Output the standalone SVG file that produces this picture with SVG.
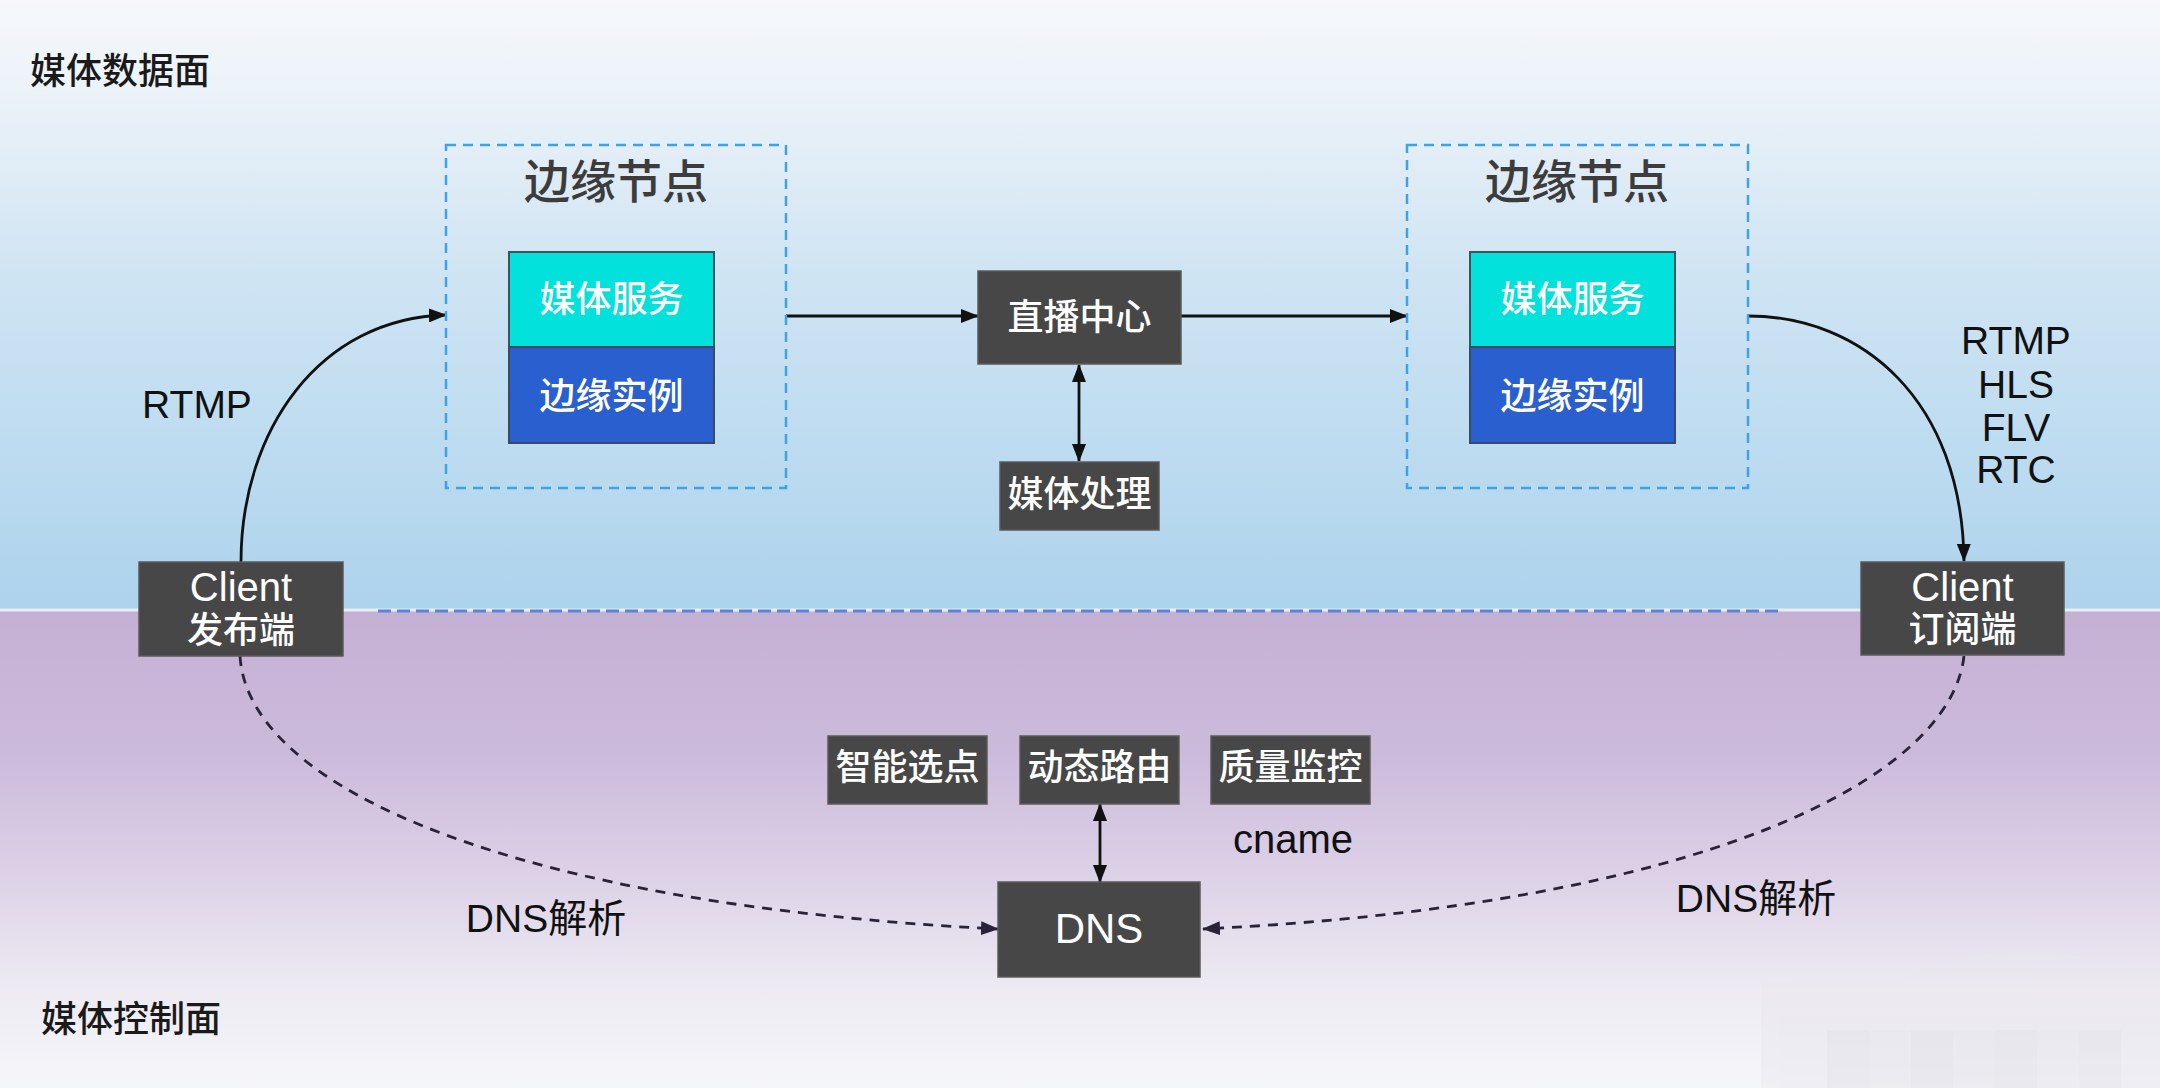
<svg xmlns="http://www.w3.org/2000/svg" width="2160" height="1088" viewBox="0 0 2160 1088">
  <defs>
    <linearGradient id="dataPlane" x1="0" y1="0" x2="0" y2="611" gradientUnits="userSpaceOnUse">
      <stop offset="0" stop-color="#f6f8fb"/>
      <stop offset="0.18" stop-color="#e9f1f8"/>
      <stop offset="0.45" stop-color="#cfe4f3"/>
      <stop offset="0.75" stop-color="#bcdbf0"/>
      <stop offset="1" stop-color="#add2ec"/>
    </linearGradient>
    <linearGradient id="ctrlPlane" x1="0" y1="611" x2="0" y2="1088" gradientUnits="userSpaceOnUse">
      <stop offset="0" stop-color="#c4b0d3"/>
      <stop offset="0.3" stop-color="#ccbadb"/>
      <stop offset="0.55" stop-color="#dcd1e7"/>
      <stop offset="0.8" stop-color="#eeebf3"/>
      <stop offset="1" stop-color="#f5f6fa"/>
    </linearGradient>
    <marker id="arrow" markerUnits="userSpaceOnUse" markerWidth="18" markerHeight="14" refX="17" refY="7" orient="auto-start-reverse">
      <path d="M0,0 L18,7 L0,14 z" fill="#111"/>
    </marker>
    <marker id="arrowDash" markerUnits="userSpaceOnUse" markerWidth="18" markerHeight="14" refX="17" refY="7" orient="auto-start-reverse">
      <path d="M0,0 L18,7 L0,14 z" fill="#2a2238"/>
    </marker>
    <style>
      text { font-family: "Liberation Sans", "Noto Sans CJK SC", sans-serif; }
      .plane { font-size: 36px; fill: #1a1a1a; font-weight: 500; }
      .zone { fill: none; stroke: #3ea2e4; stroke-width: 2.5; stroke-dasharray: 10 7; }
      .zoneTitle { font-size: 46px; fill: #3c3c3c; text-anchor: middle; font-weight: 500; }
      .svc { fill: #03e1dc; stroke: #3b5560; stroke-width: 2; }
      .inst { fill: #2a5fcf; stroke: #3b4a60; stroke-width: 2; }
      .box { fill: #474747; stroke: #5a5a5a; stroke-width: 1.5; }
      .wt { font-size: 36px; fill: #ffffff; text-anchor: middle; font-weight: 500; }
      .lbl { font-size: 39px; fill: #111111; text-anchor: middle; }
      .solid { fill: none; stroke: #111; stroke-width: 2.8; }
      .dash { fill: none; stroke: #2a2238; stroke-width: 2.8; stroke-dasharray: 10 8; }
    </style>
  </defs>

  <!-- planes -->
  <rect x="0" y="0" width="2160" height="611" fill="url(#dataPlane)"/>
  <rect x="0" y="611" width="2160" height="477" fill="url(#ctrlPlane)"/>
  <line x1="0" y1="610" x2="2160" y2="610" stroke="#e6edf3" stroke-width="3"/>
  <line x1="378" y1="611" x2="1781" y2="611" stroke="#5b84d8" stroke-width="3" stroke-dasharray="13 6"/>

  <!-- faint haze, lower right -->
  <g opacity="0.45">
    <path d="M1900,980 Q1960,948 2050,952 L2120,962 L2160,970 L2160,1088 L1761,1088 L1761,982 z" fill="#e9e6ee"/>
    <rect x="1827" y="1030" width="42" height="58" fill="#dedce4"/>
    <rect x="1869" y="1030" width="42" height="58" fill="#e3e1e8"/>
    <rect x="1911" y="1030" width="42" height="58" fill="#dcdae2"/>
    <rect x="1953" y="1030" width="42" height="58" fill="#e2e0e7"/>
    <rect x="1995" y="1030" width="42" height="58" fill="#dddbe3"/>
    <rect x="2037" y="1030" width="42" height="58" fill="#e4e2e9"/>
    <rect x="2079" y="1030" width="42" height="58" fill="#dfdde5"/>
  </g>

  <text class="plane" x="30" y="84">媒体数据面</text>
  <text class="plane" x="41" y="1032">媒体控制面</text>

  <!-- connectors -->
  <g id="connectors">
    <path class="solid" d="M241,562 C241,430 320,318 446,315" marker-end="url(#arrow)"/>
    <line class="solid" x1="786" y1="316" x2="978" y2="316" marker-end="url(#arrow)"/>
    <line class="solid" x1="1181" y1="316" x2="1407" y2="316" marker-end="url(#arrow)"/>
    <line class="solid" x1="1079" y1="365" x2="1079" y2="461" marker-start="url(#arrow)" marker-end="url(#arrow)"/>
    <path class="solid" d="M1748,316 C1862,316 1962,400 1964,561" marker-end="url(#arrow)"/>
    <line class="solid" x1="1100" y1="804" x2="1100" y2="882" marker-start="url(#arrow)" marker-end="url(#arrow)"/>
    <path class="dash" d="M240,656 C248,790 520,905 998,929" marker-end="url(#arrowDash)"/>
    <path class="dash" d="M1964,656 C1950,780 1700,905 1203,929" marker-end="url(#arrowDash)"/>
    <text class="lbl" x="197" y="418">RTMP</text>
    <text class="lbl" x="2016" y="354">RTMP</text>
    <text class="lbl" x="2016" y="398">HLS</text>
    <text class="lbl" x="2016" y="441">FLV</text>
    <text class="lbl" x="2016" y="483">RTC</text>
    <text class="lbl" x="546" y="932">DNS解析</text>
    <text class="lbl" x="1756" y="912">DNS解析</text>
    <text class="lbl" x="1293" y="853" style="font-size:40px">cname</text>
  </g>

  <!-- edge node, publish side -->
  <g id="edge-left">
    <rect class="zone" x="446" y="145" width="340" height="343"/>
    <text class="zoneTitle" x="616" y="198">边缘节点</text>
    <rect class="svc" x="509" y="252" width="205" height="95"/>
    <rect class="inst" x="509" y="347" width="205" height="96"/>
    <text class="wt" x="611.5" y="312">媒体服务</text>
    <text class="wt" x="611.5" y="409">边缘实例</text>
  </g>

  <!-- edge node, subscribe side -->
  <g id="edge-right">
    <rect class="zone" x="1407" y="145" width="341" height="343"/>
    <text class="zoneTitle" x="1577" y="198">边缘节点</text>
    <rect class="svc" x="1470" y="252" width="205" height="95"/>
    <rect class="inst" x="1470" y="347" width="205" height="96"/>
    <text class="wt" x="1572.5" y="312">媒体服务</text>
    <text class="wt" x="1572.5" y="409">边缘实例</text>
  </g>

  <g id="live-center">
    <rect class="box" x="978" y="271" width="203" height="93"/>
    <text class="wt" x="1079.5" y="330">直播中心</text>
  </g>

  <g id="media-processing">
    <rect class="box" x="1000" y="462" width="159" height="68"/>
    <text class="wt" x="1079.5" y="507">媒体处理</text>
  </g>

  <g id="client-publish">
    <rect class="box" x="139" y="562" width="204" height="94"/>
    <text class="wt" x="241" y="601" style="font-size:40px">Client</text>
    <text class="wt" x="241" y="643">发布端</text>
  </g>

  <g id="client-subscribe">
    <rect class="box" x="1861" y="562" width="203" height="93"/>
    <text class="wt" x="1962.5" y="601" style="font-size:40px">Client</text>
    <text class="wt" x="1962.5" y="642">订阅端</text>
  </g>

  <g id="smart-select">
    <rect class="box" x="828" y="736" width="159" height="68"/>
    <text class="wt" x="907.5" y="780">智能选点</text>
  </g>

  <g id="dynamic-routing">
    <rect class="box" x="1020" y="736" width="159" height="68"/>
    <text class="wt" x="1099.5" y="780">动态路由</text>
  </g>

  <g id="quality-monitor">
    <rect class="box" x="1211" y="736" width="159" height="68"/>
    <text class="wt" x="1290.5" y="780">质量监控</text>
  </g>

  <g id="dns">
    <rect class="box" x="998" y="882" width="202" height="95"/>
    <text class="wt" x="1099" y="943" style="font-size:42px">DNS</text>
  </g>
</svg>
